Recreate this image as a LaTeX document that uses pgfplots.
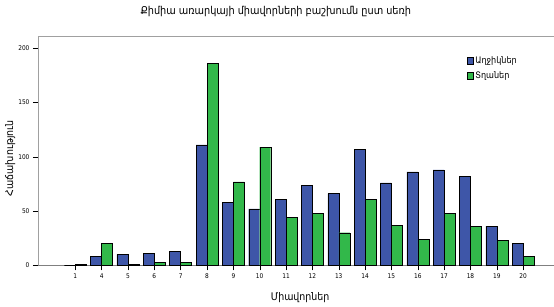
\documentclass[border=0pt]{standalone}
\usepackage{fontspec}
\setmainfont{DejaVu Sans Condensed}
\usepackage{pgfplots}
\pgfplotsset{compat=1.18}
\definecolor{barblue}{RGB}{62,86,168}
\definecolor{bargreen}{RGB}{50,184,74}
\definecolor{frame}{RGB}{160,160,160}
\begin{document}
\begin{tikzpicture}
\useasboundingbox (-38pt,-41.7pt) rectangle (516pt,265.3pt);
\begin{axis}[
  at={(0,0)}, anchor=south west,
  scale only axis, width=516pt, height=228.6pt,
  xmin=-1.415, xmax=18.17, ymin=0, ymax=210.7,
  ybar=0pt, bar width=11pt,
  axis x line*=bottom, axis y line*=left,
  x axis line style={draw=gray,-}, y axis line style={draw=frame,-},
  tick align=outside, major tick length=5pt,
  tick style={black, thin},
  xtick={0,...,17},
  xticklabels={1,4,5,6,7,8,9,10,11,12,13,14,15,16,17,18,19,20},
  ytick={0,50,100,150,200},
  /pgf/number format/assume math mode=true,
  ticklabel style={font=\fontsize{6.5}{8}\selectfont},
  title={Քիմիա առարկայի միավորների բաշխումն ըստ սեռի},
  title style={at={(axis description cs:0.461,1.086)}, anchor=center, font=\fontsize{10.8}{12}\selectfont},
  xlabel={Միավորներ},
  xlabel style={at={(axis description cs:0.508,-0.143)}, anchor=center, font=\fontsize{10.5}{12}\selectfont},
  ylabel={Հաճախություն},
  ylabel style={at={(axis description cs:-0.054,0.469)}, anchor=center, rotate=0, font=\fontsize{10.5}{12}\selectfont},
  legend style={draw=none, fill=none, at={(axis description cs:0.825,0.93)}, anchor=north west, font=\fontsize{9}{11}\selectfont, row sep=2pt},
  legend cell align=left,
  legend image code/.code={\draw[#1,draw=black] (0pt,-3.5pt) rectangle (6pt,3.5pt);},
  after end axis/.code={\draw[frame] (rel axis cs:0,1) -- (rel axis cs:1,1);},
]
\addplot[fill=barblue, draw=black] coordinates {
(0,0) (1,8) (2,10) (3,11) (4,13) (5,111) (6,58) (7,52) (8,61) (9,74)
(10,66) (11,107) (12,76) (13,86) (14,88) (15,82) (16,36) (17,20)};
\addlegendentry{Աղջիկներ}
\addplot[fill=bargreen, draw=black] coordinates {
(0,1) (1,20) (2,1) (3,3) (4,3) (5,186) (6,77) (7,109) (8,44) (9,48)
(10,30) (11,61) (12,37) (13,24) (14,48) (15,36) (16,23) (17,8)};
\addlegendentry{Տղաներ}
\end{axis}
\end{tikzpicture}
\end{document}
